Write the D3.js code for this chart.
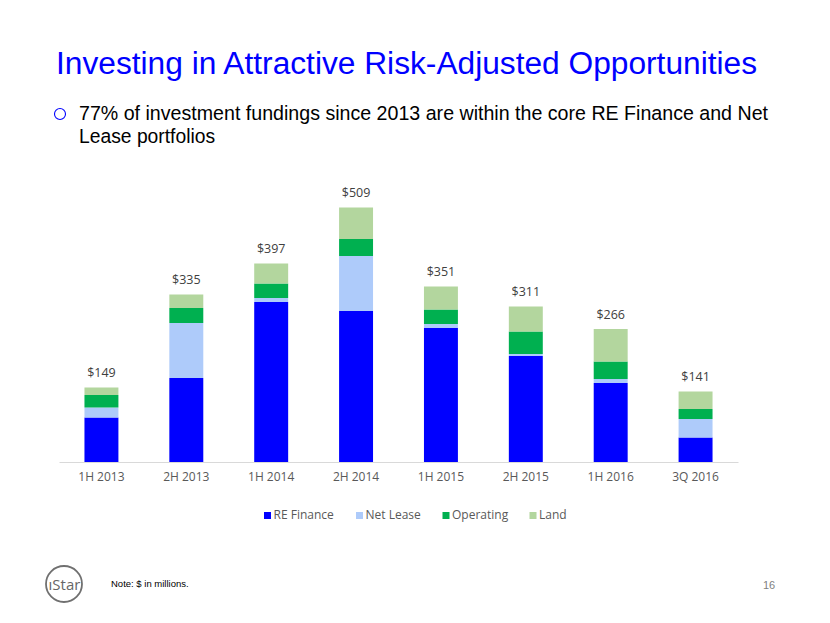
<!DOCTYPE html>
<html>
<head>
<meta charset="utf-8">
<script src="https://cdn.jsdelivr.net/npm/d3@7"></script>
<style>
html,body{margin:0;padding:0;background:#fff;}
svg{display:block;}
</style>
</head>
<body>
<svg id="chart" width="830" height="623"></svg>
<script>
const categories = ["1H 2013","2H 2013","1H 2014","2H 2014","1H 2015","2H 2015","1H 2016","3Q 2016"];
const seriesNames = ["RE Finance","Net Lease","Operating","Land"];
const reFinance = [89,168,320,302,268,212,158,49];
const netLease  = [20,110,8,110,8,4,8,37];
const operating = [25,30,29,34,29,45,35,20];
const land      = [15,27,40,63,46,50,65,35];
const totals    = [149,335,397,509,351,311,266,141];
const colors = ["#0000FF","#AECBFA","#00B050","#B3D69E"];

const svg = d3.select("#chart");
const W = 830, H = 623;
svg.append("rect").attr("width",W).attr("height",H).attr("fill","#fff");

// Title
svg.append("text").attr("x",56).attr("y",73.5)
  .attr("font-family","'Liberation Sans', Arial, sans-serif")
  .attr("font-size",31).attr("fill","#0000FF")
  .attr("textLength",701).attr("lengthAdjust","spacingAndGlyphs")
  .text("Investing in Attractive Risk-Adjusted Opportunities");

// Bullet
svg.append("circle").attr("cx",60).attr("cy",114).attr("r",5.5)
  .attr("fill","none").attr("stroke","#0000FF").attr("stroke-width",1.1);
const bt = svg.append("text")
  .attr("font-family","'Liberation Sans', Arial, sans-serif")
  .attr("font-size",19.3).attr("fill","#000");
bt.append("tspan").attr("x",79).attr("y",120)
  .attr("textLength",689).attr("lengthAdjust","spacingAndGlyphs")
  .text("77% of investment fundings since 2013 are within the core RE Finance and Net");
bt.append("tspan").attr("x",79).attr("y",143.3).text("Lease portfolios");

// Chart
const data = categories.map((c,i)=>({cat:c,"RE Finance":reFinance[i],"Net Lease":netLease[i],"Operating":operating[i],"Land":land[i],total:totals[i]}));
const stack = d3.stack().keys(seriesNames)(data);

const x = d3.scaleBand().domain(categories).range([59,738]).paddingInner(0.6).paddingOuter(0.3);
const y = d3.scaleLinear().domain([0,600]).range([462,162]);
const color = d3.scaleOrdinal().domain(seriesNames).range(colors);

const g = svg.append("g");
g.selectAll("g.series").data(stack).join("g")
  .attr("class","series").attr("fill",d=>color(d.key))
  .selectAll("rect").data(d=>d).join("rect")
  .attr("x",d=>x(d.data.cat))
  .attr("width",x.bandwidth())
  .attr("y",d=>y(d[1]))
  .attr("height",d=>y(d[0])-y(d[1]));

// Axis
const ax = svg.append("g").attr("transform","translate(0,462)")
  .call(d3.axisBottom(x).tickSize(0).tickPadding(10));
ax.select(".domain").attr("stroke","#D9D9D9").attr("stroke-width",1.2);
ax.selectAll("text").attr("font-family","'Open Sans', 'Noto Sans', sans-serif")
  .attr("font-size",12).attr("fill","#595959");

// Totals
svg.append("g").selectAll("text").data(data).join("text")
  .attr("x",d=>x(d.cat)+x.bandwidth()/2)
  .attr("y",d=>y(d.total)-10.5)
  .attr("text-anchor","middle")
  .attr("font-family","'Open Sans', 'Noto Sans', sans-serif")
  .attr("font-size",12.5).attr("fill","#404040")
  .text(d=>"$"+d.total);

// Legend
const legendX = [264,356,442.5,529.5];
const lg = svg.append("g").selectAll("g").data(seriesNames).join("g")
  .attr("transform",(d,i)=>`translate(${legendX[i]},512)`);
lg.append("rect").attr("width",7).attr("height",7).attr("fill",d=>color(d));
lg.append("text").attr("x",9.5).attr("y",7)
  .attr("font-family","'Open Sans', 'Noto Sans', sans-serif")
  .attr("font-size",12).attr("fill","#595959").text(d=>d);

// Logo
svg.append("circle").attr("cx",64).attr("cy",584).attr("r",18)
  .attr("fill","none").attr("stroke","#707070").attr("stroke-width",1.8);
svg.append("text").attr("x",64.5).attr("y",589.5).attr("text-anchor","middle")
  .attr("font-family","'Open Sans', 'Noto Sans', sans-serif")
  .attr("font-size",15).attr("fill","#666").text("ıStar");

// Note
svg.append("text").attr("x",111).attr("y",587)
  .attr("font-family","'Liberation Sans', Arial, sans-serif")
  .attr("font-size",9.5).attr("fill","#000").text("Note: $ in millions.");

// Page number
svg.append("text").attr("x",769).attr("y",589).attr("text-anchor","middle")
  .attr("font-family","'Liberation Sans', Arial, sans-serif")
  .attr("font-size",11).attr("fill","#7F7F7F").text("16");
</script>
</body>
</html>
